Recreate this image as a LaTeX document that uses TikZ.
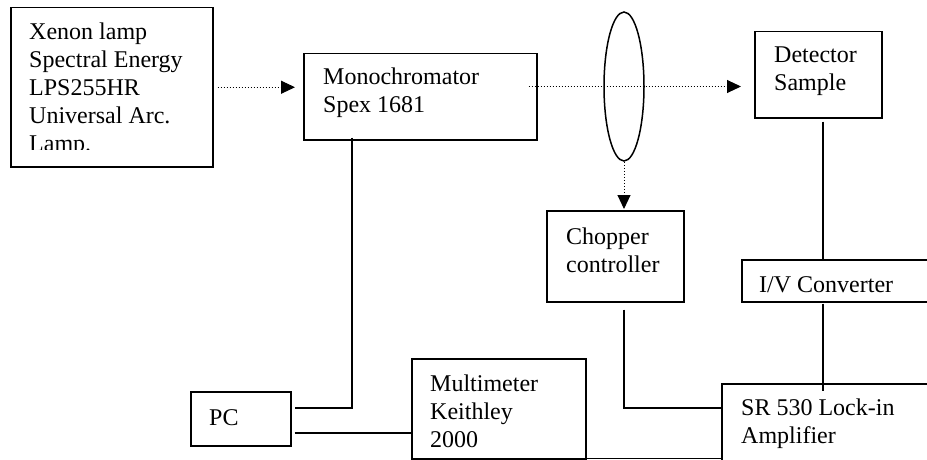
\documentclass[tikz,border=0pt]{standalone}
\usepackage{fontspec}
\setmainfont{Liberation Serif}
\usetikzlibrary{arrows.meta,calc,shapes.geometric}
\newcommand\boxlines[1]{\vtop{\baselineskip=28pt\lineskiplimit=-20pt\lineskip=0pt #1}}
\begin{document}
\begin{tikzpicture}[x=1pt,y=1pt,
  boxnode/.style={draw,line width=1.5pt,rectangle,inner sep=0pt,anchor=north west},
  txt/.style={anchor=base west,inner sep=0pt,font=\fontsize{24}{28}\selectfont},
  wire/.style={line width=1.5pt},
  dotarrow/.style={line width=1pt,dash pattern=on 1pt off 2pt,-{Triangle[length=14pt,width=13pt]}}]
\useasboundingbox (0,0) rectangle (927,459);
% boxes
\node[boxnode,minimum width=202pt,minimum height=159pt] (xenon) at (10,452) {};
\node[boxnode,minimum width=233pt,minimum height=86pt] (mono) at (303,406) {};
\node[boxnode,minimum width=127pt,minimum height=86pt] (det) at (754,428) {};
\node[boxnode,minimum width=137pt,minimum height=91pt] (chopper) at (546,249) {};
\node[boxnode,minimum width=200pt,minimum height=42pt] (iv) at (741,200) {};
\node[boxnode,minimum width=220pt,minimum height=90pt] (sr) at (721,76) {};
\node[boxnode,minimum width=174pt,minimum height=100pt] (multi) at (411,101) {};
\node[boxnode,minimum width=100pt,minimum height=54pt] (pc) at (190,68) {};
\node[draw,ellipse,line width=1.5pt,minimum width=40pt,minimum height=149pt,inner sep=0pt] (lens) at (624,372.5) {};
% texts
\begin{scope}
\clip (11,449) rectangle (211,309.5);
\node[txt] (xenonT) at (29,419) {\boxlines{\hbox{Xenon lamp}\hbox{Spectral Energy}\hbox{LPS255HR}\hbox{Universal Arc.}\hbox{Lamp.}}};
\end{scope}
\node[txt] (monoT) at (323,374) {\boxlines{\hbox{Monochromator}\hbox{Spex 1681}}};
\node[txt] (detT) at (774,396) {\boxlines{\hbox{Detector}\hbox{Sample}}};
\node[txt] (chopperT) at (566,215) {\boxlines{\hbox{Chopper}\hbox{controller}}};
\node[txt] (ivT) at (759,167) {I/V Converter};
\node[txt] (srT) at (741,44) {\boxlines{\hbox{SR 530 Lock-in}\hbox{Amplifier}}};
\node[txt] (multiT) at (430,68) {\boxlines{\hbox{Multimeter}\hbox{Keithley}\hbox{2000}}};
\node[txt] (pcT) at (209,34) {PC};
% optical paths
\draw[dotarrow] ([xshift=4pt]xenon.east) -- ([xshift=-8pt]xenon.east -| mono.west);
\draw[dotarrow] ([xshift=-9pt]mono.east |- lens.center) -- ([xshift=-13pt]det.west |- lens.center);
\draw[dotarrow] (lens.south) -- ([yshift=1pt]lens.south |- chopper.north);
% wires
\draw[wire] ([xshift=4.5pt,yshift=-3pt]det.south) -- ([xshift=4.5pt]det.south |- iv.north);
\draw[wire] ([xshift=4.5pt,yshift=-1pt]det.south |- iv.south) -- ([xshift=4.5pt,yshift=-8pt]det.south |- sr.north);
\draw[wire] ([yshift=-7pt]lens.south |- chopper.south) |- ([yshift=-25pt]sr.north west);
\draw[wire] ([xshift=49pt,yshift=3pt]mono.south west) |- ([xshift=3pt,yshift=11pt]pc.east);
\draw[wire] ([xshift=3pt,yshift=-14pt]pc.east) -- ([yshift=-14pt]pc.east -| multi.west);
\draw[wire] ([yshift=1pt]multi.south east) -- ([yshift=1pt]multi.south east -| sr.west);
\end{tikzpicture}
\end{document}
